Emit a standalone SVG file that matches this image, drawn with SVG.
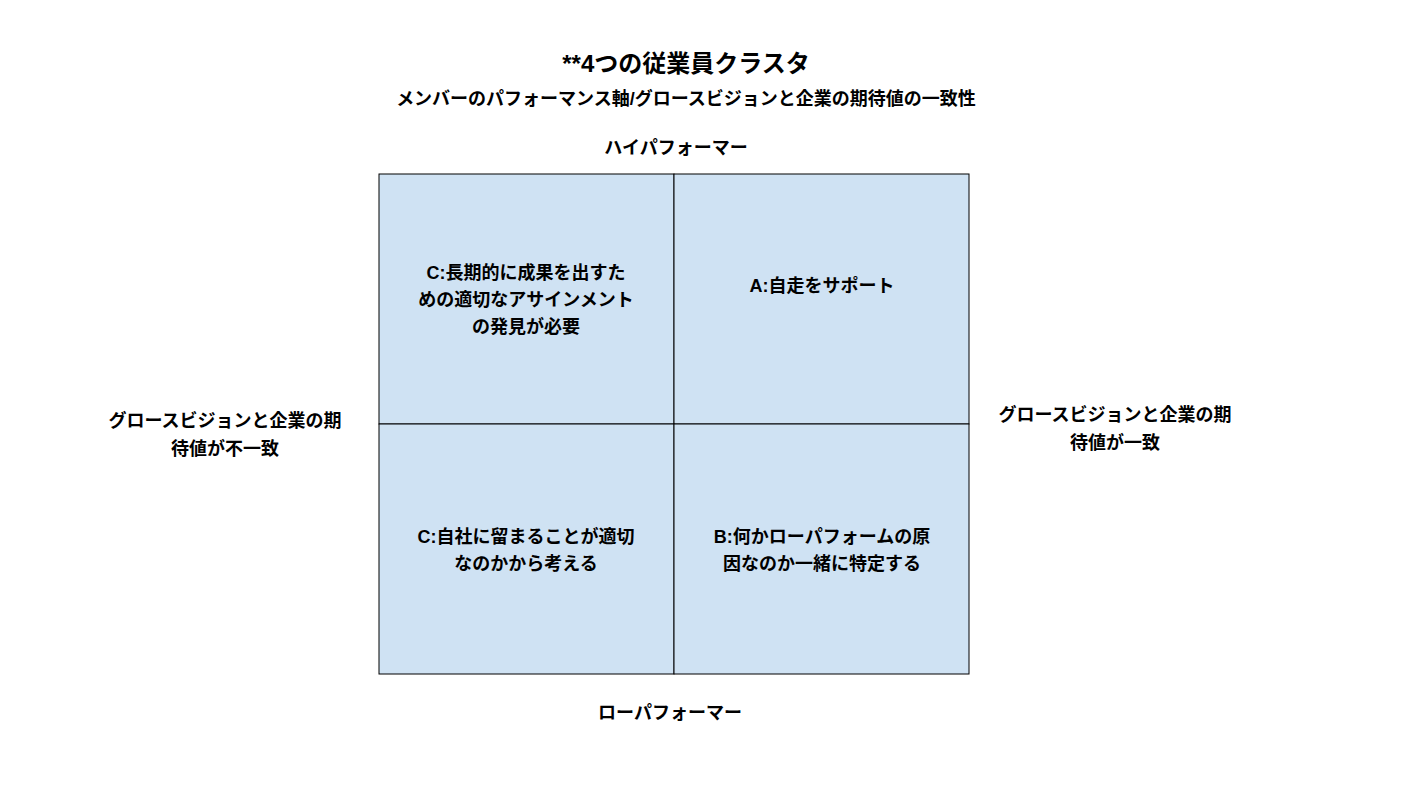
<svg xmlns="http://www.w3.org/2000/svg" width="1426" height="812" viewBox="0 0 1426 812">
<style>
text{font-family:"Liberation Sans","Noto Sans CJK JP",sans-serif;font-weight:bold;fill:#000;text-anchor:middle}
.q{fill:#cfe2f3;stroke:#000;stroke-width:1}
.t{font-size:18px}
</style>
<rect width="1426" height="812" fill="#fff"/>
<text x="686" y="72" font-size="24">**4つの従業員クラスタ</text>
<text x="686" y="105" class="t">メンバーのパフォーマンス軸/グロースビジョンと企業の期待値の一致性</text>
<text x="676" y="154" class="t">ハイパフォーマー</text>
<text x="670" y="719" class="t">ローパフォーマー</text>
<g id="left-label"><text x="225" y="427" class="t">グロースビジョンと企業の期</text><text x="225" y="455" class="t">待値が不一致</text></g>
<g id="right-label"><text x="1115" y="421" class="t">グロースビジョンと企業の期</text><text x="1115" y="449" class="t">待値が一致</text></g>
<g id="q-c-top"><rect class="q" x="379" y="174" width="295" height="250"/>
<text x="526" y="279" class="t">C:長期的に成果を出すた</text><text x="526" y="306" class="t">めの適切なアサインメント</text><text x="526" y="333" class="t">の発見が必要</text></g>
<g id="q-a"><rect class="q" x="674" y="174" width="295" height="250"/>
<text x="822" y="292" class="t">A:自走をサポート</text></g>
<g id="q-c-bottom"><rect class="q" x="379" y="424" width="295" height="250"/>
<text x="526" y="543" class="t">C:自社に留まることが適切</text><text x="526" y="570" class="t">なのかから考える</text></g>
<g id="q-b"><rect class="q" x="674" y="424" width="295" height="250"/>
<text x="822" y="543" class="t">B:何かローパフォームの原</text><text x="822" y="570" class="t">因なのか一緒に特定する</text></g>
<g id="connectors"></g>
</svg>
